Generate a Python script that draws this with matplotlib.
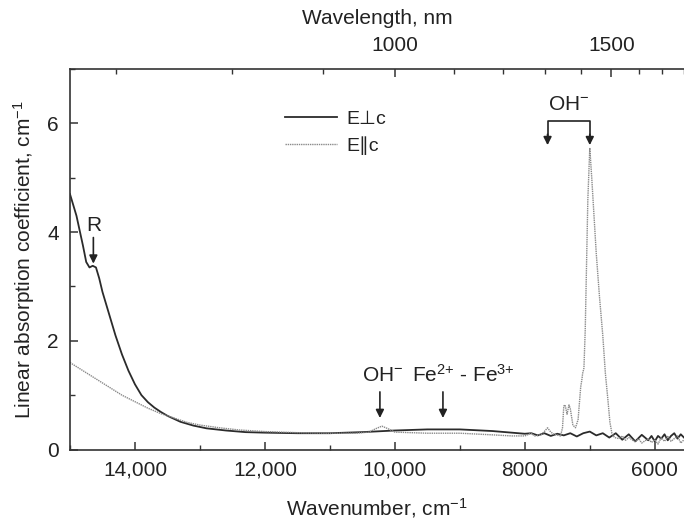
import numpy as np
import matplotlib
matplotlib.use("Agg")
import matplotlib.pyplot as plt
from matplotlib.ticker import MultipleLocator, FixedLocator, NullFormatter

plt.rcParams['font.family'] = ['Liberation Sans', 'DejaVu Sans']
plt.rcParams['mathtext.default'] = 'regular'

# E perpendicular c (solid)
wn_perp = [15000, 14900, 14800, 14750, 14700, 14650, 14600, 14550, 14500, 14400,
           14300, 14200, 14100, 14000, 13900, 13800, 13700, 13600, 13500, 13300,
           13100, 12900, 12600, 12300, 12000, 11500, 11000, 10500, 10000, 9500,
           9000, 8500, 8200, 8000, 7900, 7800, 7700, 7600, 7500, 7400,
           7300, 7200, 7100, 7000, 6900, 6800, 6700, 6600, 6500, 6400,
           6300, 6200, 6100, 6050, 6000, 5950, 5900, 5850, 5800, 5750,
           5700, 5650, 5600, 5550]
a_perp = [4.7, 4.3, 3.75, 3.45, 3.35, 3.38, 3.35, 3.15, 2.9, 2.5,
          2.1, 1.75, 1.45, 1.2, 1.0, 0.87, 0.77, 0.69, 0.62, 0.51,
          0.44, 0.39, 0.35, 0.32, 0.31, 0.3, 0.3, 0.32, 0.35, 0.37,
          0.37, 0.34, 0.31, 0.29, 0.3, 0.26, 0.3, 0.25, 0.29, 0.26,
          0.3, 0.24, 0.3, 0.33, 0.26, 0.3, 0.22, 0.3, 0.18, 0.28,
          0.15, 0.27, 0.17, 0.25, 0.15, 0.25, 0.2, 0.28, 0.17, 0.25,
          0.3, 0.2, 0.28, 0.22]

# E parallel c (dotted)
wn_par = [15000, 14800, 14600, 14400, 14200, 14000, 13800, 13600, 13400, 13200,
          13000, 12700, 12400, 12000, 11500, 11000, 10600, 10400, 10300, 10200,
          10100, 10000, 9500, 9000, 8500, 8200, 8000, 7900, 7850, 7750,
          7700, 7650, 7600, 7550, 7450, 7420, 7400, 7380, 7350, 7320,
          7300, 7260, 7220, 7180, 7160, 7140, 7120, 7110, 7090, 7070,
          7050, 7030, 7000, 6970, 6930, 6900, 6850, 6800, 6760, 6720,
          6690, 6660, 6620, 6550, 6500, 6450, 6400, 6300, 6250, 6200,
          6100, 6050, 6000, 5950, 5900, 5850, 5800, 5750, 5700, 5650,
          5600, 5550]
a_par = [1.6, 1.45, 1.3, 1.15, 1.0, 0.88, 0.76, 0.66, 0.58, 0.5,
         0.45, 0.4, 0.36, 0.33, 0.31, 0.3, 0.3, 0.32, 0.38, 0.43,
         0.38, 0.32, 0.3, 0.3, 0.27, 0.25, 0.25, 0.3, 0.25, 0.27,
         0.33, 0.4, 0.32, 0.28, 0.25, 0.4, 0.8, 0.82, 0.65, 0.82,
         0.75, 0.45, 0.4, 0.55, 0.85, 1.15, 1.3, 1.4, 1.5, 2.2,
         3.4, 4.6, 5.55, 5.0, 4.2, 3.6, 2.8, 2.1, 1.4, 0.9,
         0.5, 0.3, 0.22, 0.2, 0.25, 0.17, 0.22, 0.14, 0.2, 0.12,
         0.2, 0.13, 0.18, 0.1, 0.22, 0.15, 0.25, 0.15, 0.2, 0.25,
         0.12, 0.18]

series_labels = ['E\u22a5c', 'E\u2225c']
top_major_nm = [1000, 1500]
top_minor_nm = [700, 800, 900, 1100, 1200, 1300, 1400, 1600, 1700, 1800]

fig = plt.figure(figsize=(6.84, 5.23), dpi=100)
ax = fig.add_axes([0.1023, 0.1405, 0.8977, 0.7275])

ax.plot(wn_perp, a_perp, color='#2b2b2b', lw=1.3, label=series_labels[0])
ax.plot(wn_par, a_par, color='#8a8a8a', lw=1.0, ls=(0, (1, 0.6)), label=series_labels[1])

ax.set_xlim(15000, 5550)
ax.set_ylim(0, 7)
ax.xaxis.set_minor_locator(MultipleLocator(1000))
ax.yaxis.set_major_locator(MultipleLocator(2))
ax.yaxis.set_minor_locator(MultipleLocator(1))
ax.set_xticks([14000, 12000, 10000, 8000, 6000])
ax.set_xticklabels(['14,000', '12,000', '10,000', '8000', '6000'])

for s in ax.spines.values():
    s.set_color('#333333')
    s.set_linewidth(1.2)
ax.spines['right'].set_visible(False)
ax.spines['top'].set_visible(False)

ax.tick_params(which='both', direction='in', colors='#333333', labelsize=15,
               top=False, right=False)
ax.tick_params(which='major', length=6, width=1.1)
ax.tick_params(which='minor', length=3.5, width=1.0)
ax.tick_params(axis='x', pad=8)
ax.tick_params(axis='y', pad=8)
for t in ax.get_xticklabels() + ax.get_yticklabels():
    t.set_color('#222222')

ax.set_xlabel('Wavenumber, cm$^{-1}$', fontsize=15, color='#222222', labelpad=12)
ax.set_ylabel('Linear absorption coefficient, cm$^{-1}$', fontsize=15, color='#222222', labelpad=7)

# Top wavelength axis
ax2 = ax.twiny()
ax2.set_xlim(ax.get_xlim())
ax2.xaxis.set_major_locator(FixedLocator([1e7 / v for v in top_major_nm]))
ax2.xaxis.set_minor_locator(FixedLocator([1e7 / v for v in top_minor_nm]))
ax2.set_xticklabels([str(v) for v in top_major_nm])
ax2.xaxis.set_minor_formatter(NullFormatter())
for side in ['right', 'left', 'bottom']:
    ax2.spines[side].set_visible(False)
ax2.spines['top'].set_color('#333333')
ax2.spines['top'].set_linewidth(1.2)
ax2.tick_params(which='both', direction='in', colors='#333333', labelsize=15, pad=10)
ax2.tick_params(which='major', length=6, width=1.1)
ax2.tick_params(which='minor', length=3.5, width=1.0)
for t in ax2.get_xticklabels():
    t.set_color('#222222')
ax2.set_xlabel('Wavelength, nm', fontsize=15, color='#222222', labelpad=9)

leg = ax.legend(loc='upper left', bbox_to_anchor=(0.35, 0.892), frameon=False,
                fontsize=14, handlelength=2.7, handletextpad=0.45,
                labelspacing=0.45, borderpad=0, borderaxespad=0)
for t in leg.get_texts():
    t.set_color('#222222')

arrowprops = dict(arrowstyle='-|>', color='#222222', lw=1.2, mutation_scale=12,
                  shrinkA=0, shrinkB=0)
ax.annotate('', xy=(14640, 3.42), xytext=(14640, 3.9), arrowprops=arrowprops)
ax.text(14640, 4.12, 'R', ha='center', va='center', fontsize=15, color='#222222')

ax.annotate('', xy=(10230, 0.58), xytext=(10230, 1.06), arrowprops=arrowprops)
ax.text(10180, 1.37, 'OH$^{-}$', ha='center', va='center', fontsize=15, color='#222222')

ax.annotate('', xy=(9260, 0.58), xytext=(9260, 1.06), arrowprops=arrowprops)
ax.text(8154, 1.37, 'Fe$^{2{+}}$ - Fe$^{3{+}}$', ha='right', va='center', fontsize=15, color='#222222')

# OH- bracket at top
ax.plot([7650, 7650, 7000, 7000], [5.7, 6.05, 6.05, 5.7], color='#222222', lw=1.2)
ax.annotate('', xy=(7650, 5.6), xytext=(7650, 5.8), arrowprops=arrowprops)
ax.annotate('', xy=(7000, 5.6), xytext=(7000, 5.8), arrowprops=arrowprops)
ax.text(7320, 6.35, 'OH$^{-}$', ha='center', va='center', fontsize=15, color='#222222')

fig.savefig('out.png', dpi=100)
